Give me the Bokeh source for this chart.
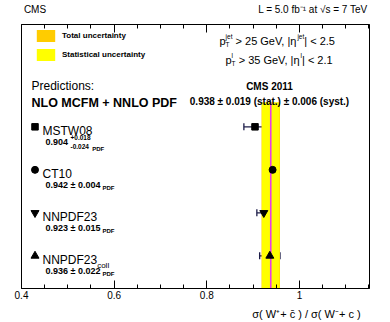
import math
from bokeh.plotting import figure
from bokeh.models import (Label, Range1d, LinearAxis, FixedTicker, Legend, LegendItem,
                          Whisker, TeeHead, ColumnDataSource, CustomJSTickFormatter)
from bokeh.embed import file_html
from bokeh.resources import INLINE

# ---------------- data ----------------
pdf_sets = ["MSTW08", "CT10", "NNPDF23", "NNPDF23"]
pdf_suffix = ["", "", "", "coll"]
prediction = [0.904, 0.942, 0.923, 0.936]
pdf_up = [0.018, 0.004, 0.015, 0.022]
pdf_down = [0.024, 0.004, 0.015, 0.022]
row = [4, 3, 2, 1]
measured = 0.938
stat_unc = 0.019
syst_unc = 0.006
x_ticks = [0.4, 0.6, 0.8, 1.0]
x_ticks_minor = [0.45, 0.5, 0.55, 0.65, 0.7, 0.75, 0.85, 0.9, 0.95, 1.05, 1.1, 1.15]
tick_labels = ["0.4", "0.6", "0.8", "1"]
header_texts = ["CMS", "L = 5.0 fb\u207b\u00b9 at \u221as = 7 TeV"]
x_title = "\u03c3( W\u207a+ c\u0304 ) / \u03c3( W\u207b+ c )"

# ---------------- style ----------------
marker_shape = ["square", "circle", "inverted_triangle", "triangle"]
marker_size = [6.5, 7, 8, 8]
FONT = "Liberation Sans"
ORANGE = "#ffcc00"
YELLOW = "#ffff00"
MAGENTA = "#e83ce8"
EBAR = "#1c1c48"

# ---------------- geometry (page px) ----------------
W, H = 390, 322
FL, FT, FR, FB = 21, 21, 369, 288
PX = 463.3
X0 = 0.4
X1 = X0 + (FR - FL) / PX
PY = 43.5
Y0 = 1 - 33 / PY
Y1 = Y0 + (FB - FT) / PY


def dx(px):
    return X0 + (px - FL) / PX


def dy(py):
    return Y0 + (FB - py) / PY


def row_page_y(r):
    return FB - (r - Y0) * PY


REG = {' ': 278, '!': 278, '(': 333, ')': 333, '+': 584, ',': 278, '-': 333, '.': 278, '/': 278,
       ':': 278, '<': 584, '=': 584, '>': 584, '|': 260, '±': 584, 'σ': 604, 'η': 556, '√': 549,
       'A': 667, 'B': 667, 'C': 722, 'D': 722, 'E': 667, 'F': 611, 'G': 778, 'H': 722, 'I': 278,
       'L': 556, 'M': 833, 'N': 722, 'O': 778, 'P': 667, 'S': 667, 'T': 611, 'V': 667, 'W': 944,
       'a': 556, 'b': 556, 'c': 500, 'd': 556, 'e': 556, 'f': 278, 'i': 222, 'j': 222, 'l': 222,
       'n': 556, 'o': 556, 'p': 556, 'r': 333, 's': 500, 't': 278, 'y': 500}
BOLD = {' ': 278, '(': 333, ')': 333, '+': 584, '-': 333, '.': 278, '±': 584, ':': 333,
        'C': 722, 'D': 722, 'F': 611, 'L': 611, 'M': 833, 'N': 722, 'O': 778, 'P': 667, 'S': 667,
        'T': 611, 'a': 556, 'c': 556, 'e': 556, 'i': 278, 'l': 278, 'n': 611, 'o': 611, 'r': 389,
        's': 556, 't': 333, 'u': 611, 'y': 556}


def tw(t, size, bold):
    tab = BOLD if bold else REG
    return sum(tab.get(ch, 556) for ch in t) * size / 1000.0


p = figure(width=W, height=H, output_backend="svg", toolbar_location=None,
           x_range=Range1d(X0, X1), y_range=Range1d(Y0, Y1),
           min_border_left=FL, min_border_top=FT, min_border_right=W - FR,
           min_border_bottom=H - FB, background_fill_color="white", border_fill_color="white")
p.outline_line_color = "black"
p.outline_line_width = 1
p.xgrid.visible = False
p.ygrid.visible = False
p.yaxis.visible = False

ax = p.xaxis[0]
ax.ticker = FixedTicker(ticks=x_ticks, minor_ticks=x_ticks_minor)
ax.major_label_overrides = dict(zip(x_ticks, tick_labels))
ax.major_tick_in = 8
ax.major_tick_out = 0
ax.minor_tick_in = 4
ax.minor_tick_out = 0
ax.major_tick_line_color = "black"
ax.minor_tick_line_color = "black"
ax.axis_line_color = "black"
ax.major_label_text_font = FONT
ax.major_label_text_font_size = "10px"
ax.major_label_text_color = "black"
ax.major_label_standoff = 2

# x-axis title (right aligned like the original), as an outer axis label row
title_axis = LinearAxis(ticker=FixedTicker(ticks=[dx(306)], minor_ticks=[]),
                        formatter=CustomJSTickFormatter(args=dict(labels=[x_title]),
                                                        code="return labels[index]"),
                        axis_line_color=None, major_tick_line_color=None,
                        minor_tick_line_color=None, major_label_standoff=0,
                        major_label_text_font=FONT, major_label_text_font_size="11px",
                        major_label_text_color="black")
p.add_layout(title_axis, "below")

# top frame ticks
top = LinearAxis(ticker=FixedTicker(ticks=x_ticks, minor_ticks=x_ticks_minor),
                 formatter=CustomJSTickFormatter(code="return ''"),
                 major_tick_in=8, major_tick_out=0, minor_tick_in=4, minor_tick_out=0,
                 major_tick_line_color="black", minor_tick_line_color="black",
                 axis_line_color="black", major_label_text_font_size="0px",
                 major_label_standoff=0)
p.add_layout(top, "above")

# header row
header = LinearAxis(ticker=FixedTicker(ticks=[dx(34.5), dx(312.5)], minor_ticks=[]),
                    formatter=CustomJSTickFormatter(args=dict(labels=header_texts),
                                                    code="return labels[index]"),
                    axis_line_color=None, major_tick_line_color=None,
                    minor_tick_line_color=None, major_label_standoff=4,
                    major_label_text_font=FONT, major_label_text_font_size="10px",
                    major_label_text_color="black")
p.add_layout(header, "above")

# measurement bands
total_unc = math.sqrt(stat_unc ** 2 + syst_unc ** 2)
band_top = dy(100)
orange = p.quad(left=[measured - total_unc], right=[measured + total_unc],
                bottom=[Y0], top=[band_top], fill_color=ORANGE, line_color=None)
yellow = p.quad(left=[measured - stat_unc], right=[measured + stat_unc],
                bottom=[Y0], top=[band_top], fill_color=YELLOW, line_color=None)
p.segment(x0=[measured], x1=[measured], y0=[Y0], y1=[band_top], line_color=MAGENTA, line_width=1.6)

legend = Legend(items=[LegendItem(label="Total uncertainty", renderers=[orange]),
                       LegendItem(label="Statistical uncertainty", renderers=[yellow])],
                location=(13, 226), orientation="vertical", glyph_width=23, glyph_height=15,
                label_height=15, label_width=10, spacing=4, padding=0, margin=0,
                label_standoff=5, background_fill_alpha=0, border_line_alpha=0,
                label_text_font=FONT, label_text_font_style="bold",
                label_text_font_size="8px", label_text_color="black")
p.add_layout(legend)

# predictions
src = ColumnDataSource(dict(
    x=prediction, y=row,
    lo=[v - d for v, d in zip(prediction, pdf_down)],
    hi=[v + u for v, u in zip(prediction, pdf_up)],
    marker=marker_shape, size=marker_size))
wh = Whisker(source=src, base="y", lower="lo", upper="hi", dimension="width",
             line_color=EBAR, line_width=1.3,
             upper_head=TeeHead(size=7, line_color=EBAR, line_width=1.3),
             lower_head=TeeHead(size=7, line_color=EBAR, line_width=1.3))
p.add_layout(wh)
p.scatter(x="x", y="y", marker="marker", size="size", source=src,
          fill_color="black", line_color="black")

key_src = ColumnDataSource(dict(x=[dx(34.5)] * len(row), y=row, marker=marker_shape, size=marker_size))
p.scatter(x="x", y="y", marker="marker", size="size", source=key_src,
          fill_color="black", line_color="black")


def label(x, y, text, size, bold=False, align="left"):
    p.add_layout(Label(x=dx(x), y=dy(y), text=text, text_font=FONT,
                       text_font_size=f"{size}px",
                       text_font_style="bold" if bold else "normal",
                       text_baseline="alphabetic", text_align=align, text_color="black"))


def run(columns, x, y, align="left"):
    widths = [max(tw(t, s, b) for t, s, b, sh in col) for col in columns]
    total = sum(widths)
    if align == "right":
        x -= total
    elif align == "center":
        x -= total / 2
    for col, w in zip(columns, widths):
        for t, s, b, sh in col:
            lead = len(t) - len(t.lstrip())
            off = tw(t[:lead], s, b)
            label(x + off, y + sh, t.strip(), s, b)
        x += w


# cuts
run([[("p", 11, False, 0)], [("T", 6.5, False, 3), ("jet", 6.5, False, -5)],
     [(" > 25 GeV, |η", 11, False, 0)], [("jet", 6.5, False, -5)], [("| < 2.5", 11, False, 0)]],
    219, 38)
run([[("p", 11, False, 0)], [("l", 6.5, False, -5), ("T", 6.5, False, 3)],
     [(" > 35 GeV, |η", 11, False, 0)], [("l", 6.5, False, -5)], [("| < 2.1", 11, False, 0)]],
    225, 57)

# measurement
label(269, 84, "CMS 2011", 10, True, "center")
label(269, 99, f"{measured:.3f} ± {stat_unc:.3f} (stat.) ± {syst_unc:.3f} (syst.)", 10, True, "center")

# predictions header
label(31, 83, "Predictions:", 12)
label(31, 100, "NLO MCFM + NNLO PDF", 12.5, True)

# prediction entries
for name, suf, v, u, d, r in zip(pdf_sets, pdf_suffix, prediction, pdf_up, pdf_down, row):
    yy = row_page_y(r)
    cols = [[(name, 12, False, 0)]]
    if suf:
        cols.append([(suf, 8, False, 5)])
    run(cols, 42, yy + 4.5)
    if abs(u - d) > 1e-9:
        run([[(f"{v:.3f} ", 9, True, 0)],
             [(f"+{u:.3f}", 6.5, True, -4.5), (f"-{d:.3f}", 6.5, True, 4.5)],
             [(" PDF", 6, True, 6.5)]], 45, yy + 15.5)
    else:
        run([[(f"{v:.3f} ± {u:.3f}", 9, True, 0)], [(" PDF", 6, True, 2.5)]], 45, yy + 15.5)

open("out.html", "w").write(file_html(p, INLINE))
